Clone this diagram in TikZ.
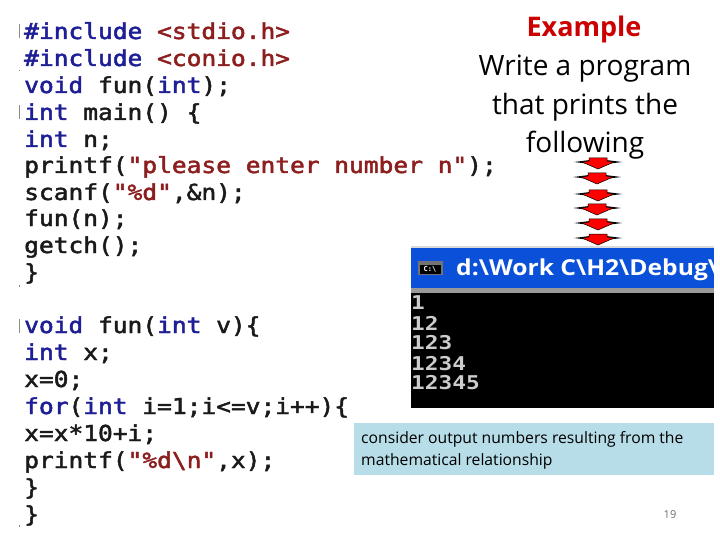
\documentclass[tikz,border=0pt]{standalone}
\usepackage{fontspec}
\setmainfont{Open Sans}
\newfontfamily\codefont{DejaVu Sans Mono}
\newfontfamily\codeheavy[FakeBold=2]{DejaVu Sans Mono}
\definecolor{kw}{HTML}{1E1E96}
\definecolor{st}{HTML}{8C1E1E}
\definecolor{cd}{HTML}{1A1A1A}
\definecolor{bar}{HTML}{0A50D8}
\definecolor{note}{HTML}{B7DDE8}
\newcommand{\K}[1]{\textcolor{kw}{#1}}
\newcommand{\Sx}[1]{\textcolor{st}{#1}}
\tikzset{
  x=1pt,y=-1pt,
  codeline/.style={anchor=base west,inner sep=0pt,xscale=1.115,text=cd,font=\codeheavy\fontsize{22}{24}\selectfont},
  termline/.style={anchor=base west,inner sep=0pt,text=black!20,font=\codefont\fontsize{19}{21}\selectfont\bfseries,xscale=1.2},
  heading/.style={inner sep=0pt,font=\fontsize{28}{38}\selectfont,anchor=center},
  tick/.style={draw=black!45,line width=0.7pt},
  wing/.style={fill=black,draw=none},
  redhead/.style={fill=red,draw=black,line width=0.5pt}
}
\newcommand{\dnarrow}[2]{%
  \fill[wing] (#1-24,#2+4) -- (#1,#2+1) -- (#1+24,#2+4) -- (#1,#2+7) -- cycle;
  \draw[redhead] (#1-9,#2) -- (#1+9,#2) -- (#1+9,#2+3) -- (#1+16,#2+4) -- (#1,#2+11) -- (#1-16,#2+4) -- (#1-9,#2+3) -- cycle;
}
\begin{document}
\begin{tikzpicture}
\useasboundingbox (0,0) rectangle (720,540);
\fill[white] (0,0) rectangle (720,540);
% code
\node[codeline] (c1) at (24,39) {\K{\#include} \Sx{<stdio.h>}};
\node[codeline] (c2) at (24,66) {\K{\#include} \Sx{<conio.h>}};
\node[codeline] (c3) at (24,93) {\K{void} fun(\K{int});};
\node[codeline] (c4) at (24,120) {\K{int} main() \{};
\node[codeline] (c5) at (24,147) {\K{int} n;};
\node[codeline] (c6) at (24,173) {printf(\Sx{"please enter number n"});};
\node[codeline] (c7) at (24,200) {scanf(\Sx{"\%d"},\&n);};
\node[codeline] (c8) at (24,226) {fun(n);};
\node[codeline] (c9) at (24,253) {getch();};
\node[codeline] (c10) at (24,280) {\}};
\node[codeline] (c11) at (24,333) {\K{void} fun(\K{int} v)\{};
\node[codeline] (c12) at (24,360) {\K{int} x;};
\node[codeline] (c13) at (24,387) {x=0;};
\node[codeline] (c14) at (24,414) {\K{for}(\K{int} i=1;i<=v;i++)\{};
\node[codeline] (c15) at (24,441) {x=x*10+i;};
\node[codeline] (c16) at (24,468) {printf(\Sx{"\%d\textbackslash n"},x);};
\node[codeline] (c17) at (24,495) {\}};
\node[codeline] (c18) at (24,522) {\}};
% margin marks
\draw[tick] (19,24) -- (19,38);
\draw[tick] (19,105) -- (19,119);
\draw[tick] (19,319) -- (19,333);
\fill[black!50] (18.5,70) rectangle (20,71.5);
\fill[black!50] (18.5,285) rectangle (20,286.5);
\fill[black!50] (18.5,525) rectangle (20,526.5);
% heading
\node[heading,text=red!80!black,font=\fontsize{27}{30}\selectfont\bfseries] (t1) at (584,29) {Example};
\node[heading] (t2) at (585,69) {Write a program};
\node[heading] (t3) at (585,107) {that prints the};
\node[heading] (t4) at (585,145) {following};
% arrows
\dnarrow{598}{158}
\dnarrow{597}{173}
\dnarrow{598}{190}
\dnarrow{597}{204}
\dnarrow{598}{219}
\dnarrow{598}{234}
% terminal
\fill[black!15] (411,246) rectangle (714,248);
\fill[bar] (411,248) rectangle (714,288);
\fill[black!40] (411,288) rectangle (714,293);
\fill[black] (411,293) rectangle (714,408);
\fill[black!55] (418,261) rectangle (443,275);
\fill[black] (420,265) rectangle (441,274);
\node[inner sep=0pt,text=white,font=\codefont\fontsize{7}{8}\selectfont\bfseries] (icon) at (430,269.5) {C:\textbackslash};
\begin{scope}
\clip (411,248) rectangle (714,288);
\node[anchor=base west,inner sep=0pt,text=white,xscale=1.12,font=\fontsize{22}{24}\selectfont\bfseries] (title) at (456,275) {d:\textbackslash Work C\textbackslash H2\textbackslash Debug\textbackslash};
\end{scope}
\node[termline] (o1) at (411,309) {1};
\node[termline] (o2) at (411,330) {12};
\node[termline] (o3) at (411,349) {123};
\node[termline] (o4) at (411,370) {1234};
\node[termline] (o5) at (411,389) {12345};
% note
\node[anchor=north west,fill=note,minimum width=360pt,minimum height=52pt,inner sep=0pt] (notebox) at (354,423) {};
\node[anchor=base west,inner sep=0pt,font=\fontsize{15.7}{17}\selectfont] (n1) at (361,443) {consider output numbers resulting from the};
\node[anchor=base west,inner sep=0pt,font=\fontsize{15.7}{17}\selectfont] (n2) at (361,465) {mathematical relationship};
\node[inner sep=0pt,text=black!55,font=\fontsize{11}{13}\selectfont] (pg) at (670,515) {19};
\end{tikzpicture}
\end{document}
